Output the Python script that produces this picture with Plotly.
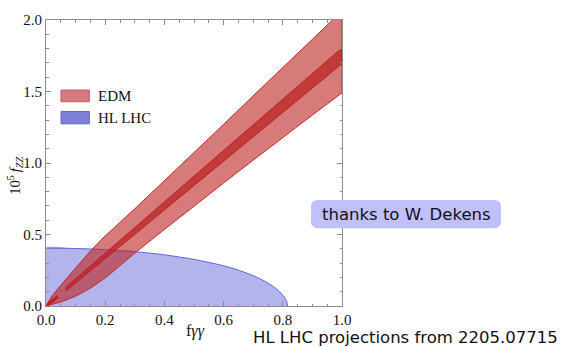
import plotly.graph_objects as go

# ---------------- data ----------------
# EDM outer band: upper and lower edges
edm_up_x = [0, 0.01, 0.02, 0.04, 0.06, 0.08, 0.10, 0.15, 0.20, 0.30, 0.40, 0.50, 0.60, 0.70, 0.80, 0.90, 1.00]
edm_up_y = [0, 0.04, 0.07, 0.12, 0.17, 0.22, 0.265, 0.385, 0.49, 0.68, 0.875, 1.075, 1.27, 1.47, 1.665, 1.865, 2.065]
edm_lo_x = [0, 0.02, 0.05, 0.10, 0.15, 0.20, 0.25, 0.30, 0.40, 0.50, 0.60, 0.70, 0.80, 0.90, 1.00]
edm_lo_y = [0, 0.010, 0.028, 0.068, 0.125, 0.195, 0.285, 0.37, 0.535, 0.70, 0.86, 1.02, 1.18, 1.335, 1.49]

# EDM inner (dark) band
dark_x = [0.066, 0.10, 0.20, 0.30, 0.40, 0.50, 0.60, 0.70, 0.80, 0.90, 1.00]
dark_up = [0.1285, 0.19, 0.369, 0.549, 0.728, 0.908, 1.087, 1.267, 1.446, 1.626, 1.805]
dark_lo = [0.1025, 0.16, 0.331, 0.502, 0.672, 0.843, 1.013, 1.184, 1.354, 1.525, 1.695]
# small dark piece near the origin
dash_x = [0.004, 0.040]
dash_y = [0.006, 0.068]

# HL LHC region boundary
hl_x = [0, 0.10, 0.20, 0.30, 0.40, 0.50, 0.55, 0.60, 0.65, 0.70, 0.74, 0.77, 0.79, 0.805, 0.813, 0.816]
hl_y = [0.405, 0.402, 0.394, 0.38, 0.358, 0.326, 0.305, 0.281, 0.251, 0.212, 0.172, 0.133, 0.098, 0.063, 0.033, 0.0]

x_ticks = [0.0, 0.2, 0.4, 0.6, 0.8, 1.0]
y_ticks = [0.0, 0.5, 1.0, 1.5, 2.0]

legend_labels = ["EDM", "HL LHC"]

# ---------------- styling ----------------
SERIF = "Liberation Serif"
SANS = "DejaVu Sans"
RED_FILL = "rgba(187,33,33,0.6)"
RED_LINE = "rgb(200,40,40)"
DARK_FILL = "rgba(185,25,25,0.65)"
BLUE_FILL = "rgb(180,180,236)"
BLUE_LINE = "rgb(96,96,216)"

# plot area in pixels (for layout helpers)
L, R, T, B = 46, 342, 12, 306
def px(p):
    return (p - L) / (R - L)
def py(p):
    return (B - p) / (B - T)

fig = go.Figure()

# HL LHC (drawn first)
fig.add_trace(go.Scatter(
    x=[0] + hl_x, y=[0] + hl_y, mode="lines", fill="toself",
    fillcolor=BLUE_FILL, line=dict(width=0, shape="spline", smoothing=0.6),
    hoverinfo="skip", showlegend=False))
fig.add_trace(go.Scatter(
    x=hl_x, y=hl_y, mode="lines",
    line=dict(color=BLUE_LINE, width=1, shape="spline", smoothing=0.6),
    hoverinfo="skip", showlegend=False))

# EDM outer band
fig.add_trace(go.Scatter(
    x=edm_up_x + edm_lo_x[::-1], y=edm_up_y + edm_lo_y[::-1],
    mode="lines", fill="toself", fillcolor=RED_FILL,
    line=dict(color=RED_LINE, width=1), hoverinfo="skip", showlegend=False))

# EDM inner band
fig.add_trace(go.Scatter(
    x=dark_x + dark_x[::-1], y=dark_up + dark_lo[::-1],
    mode="lines", fill="toself", fillcolor=DARK_FILL,
    line=dict(color="rgb(190,30,30)", width=1), hoverinfo="skip", showlegend=False))
fig.add_trace(go.Scatter(
    x=dash_x, y=dash_y, mode="lines",
    line=dict(color="rgb(190,30,30)", width=3), hoverinfo="skip", showlegend=False))

axis_common = dict(
    showline=True, linecolor="#8c8c8c", linewidth=1, mirror="ticks",
    ticks="inside", ticklen=5, tickcolor="#8c8c8c", tickwidth=1,
    showgrid=False, zeroline=False, tickformat=".1f",
    tickfont=dict(family=SERIF, size=15, color="#111"),
)

fig.update_layout(
    width=565, height=347,
    margin=dict(l=L, r=565 - R, t=T, b=347 - B),
    paper_bgcolor="white", plot_bgcolor="white",
    xaxis=dict(range=[0, 1], tickvals=x_ticks,
               minor=dict(ticks="inside", ticklen=2.5, dtick=0.05, tickcolor="#8c8c8c"),
               **axis_common),
    yaxis=dict(range=[0, 2], tickvals=y_ticks,
               minor=dict(ticks="inside", ticklen=2.5, dtick=0.1, tickcolor="#8c8c8c"),
               **axis_common),
    showlegend=False,
)

# legend swatches
sw = [(84, 96, "rgb(212,122,127)", "rgb(190,90,95)"),
      (106, 118.7, "rgb(127,127,214)", "rgb(100,100,200)")]
for (y0, y1, fc, lc), lab in zip(sw, legend_labels):
    fig.add_shape(type="rect", xref="paper", yref="paper",
                  x0=px(61), x1=px(89.3), y0=py(y1), y1=py(y0),
                  fillcolor=fc, line=dict(color=lc, width=1))
    fig.add_annotation(text=lab, xref="paper", yref="paper",
                       x=px(96), y=py((y0 + y1) / 2), xanchor="left", yanchor="middle",
                       showarrow=False, font=dict(family=SERIF, size=15, color="#111"))

# axis titles
fig.add_annotation(text="f<i>γγ</i>", xref="paper", yref="paper",
                   x=px(195), y=py(332), xanchor="center", yanchor="middle",
                   showarrow=False, font=dict(family=SERIF, size=16, color="#111"))
fig.add_annotation(text="10<sup>5</sup>\u2009<i>f</i><sub><i>ZZ</i></sub>", xref="paper", yref="paper",
                   x=px(15), y=py(172), xanchor="center", yanchor="middle", textangle=-90,
                   showarrow=False, font=dict(family=SERIF, size=14.5, color="#111"))

# rounded box "thanks to W. Dekens"
bx0, bx1, by0, by1, r = 311, 501, 197, 226, 7
X0, X1 = px(bx0), px(bx1)
Y0, Y1 = py(by1), py(by0)
rx, ry = r / (R - L), r / (B - T)
path = (f"M {X0+rx},{Y0} L {X1-rx},{Y0} Q {X1},{Y0} {X1},{Y0+ry} "
        f"L {X1},{Y1-ry} Q {X1},{Y1} {X1-rx},{Y1} L {X0+rx},{Y1} "
        f"Q {X0},{Y1} {X0},{Y1-ry} L {X0},{Y0+ry} Q {X0},{Y0} {X0+rx},{Y0} Z")
fig.add_shape(type="path", xref="paper", yref="paper", path=path,
              fillcolor="rgb(192,192,252)", line=dict(width=0))
fig.add_annotation(text="thanks to W. Dekens", xref="paper", yref="paper",
                   x=px(406), y=py(212), xanchor="center", yanchor="middle",
                   showarrow=False, font=dict(family=SANS, size=16.5, color="#111"))

fig.add_annotation(text="HL LHC projections from 2205.07715", xref="paper", yref="paper",
                   x=px(405), y=py(338), xanchor="center", yanchor="middle",
                   showarrow=False, font=dict(family=SANS, size=16.5, color="#111"))

fig.write_html("out.html")
